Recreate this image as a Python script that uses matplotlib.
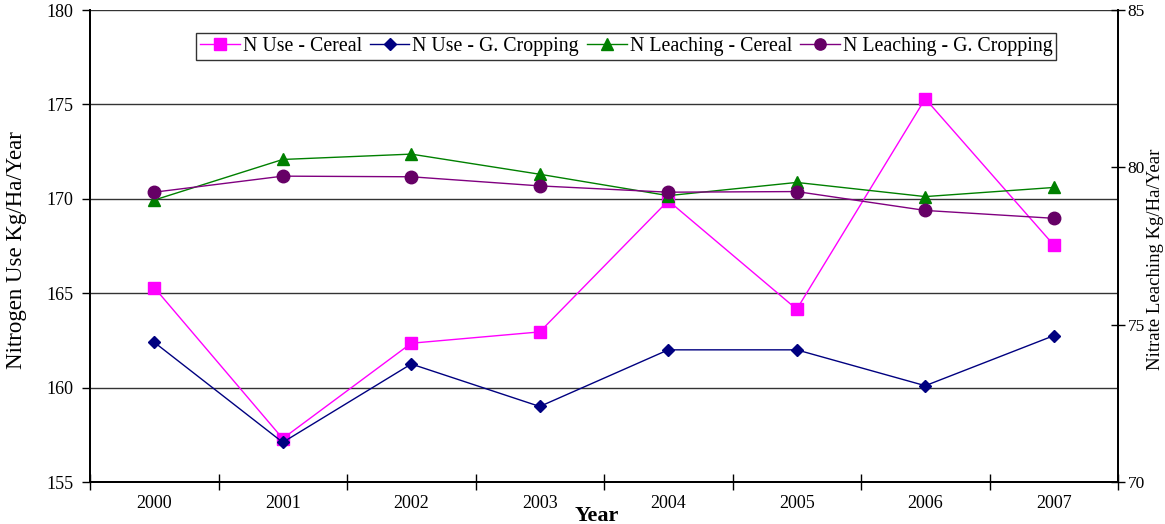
import matplotlib
matplotlib.use('Agg')
from matplotlib import pyplot as plt
from matplotlib.ticker import FixedLocator
import numpy as np

years = ['2000', '2001', '2002', '2003', '2004', '2005', '2006', '2007']

# Nitrogen use (left axis, Kg/Ha/Year)
n_use_cereal = [165.3, 157.3, 162.35, 162.95, 169.9, 164.15, 175.3, 167.55]
n_use_gcrop = [162.4, 157.1, 161.25, 159.0, 162.0, 162.0, 160.1, 162.75]

# Nitrate leaching (right axis, Kg/Ha/Year)
n_leach_cereal = [78.96, 80.25, 80.42, 79.78, 79.1, 79.52, 79.07, 79.36]
n_leach_gcrop = [79.21, 79.72, 79.7, 79.41, 79.21, 79.23, 78.63, 78.38]

plt.rcParams['font.family'] = ['Liberation Serif', 'DejaVu Serif']

fig = plt.figure(figsize=(11.65, 5.24), dpi=100)
ax = fig.add_axes([90/1165, 1-482/524, 1028/1165, 472/524])
ax2 = ax.twinx()

x = np.arange(len(years))

l1, = ax.plot(x, n_use_cereal, color='#FF00FF', lw=1.0, marker='s',
              markersize=9, label='N Use - Cereal', zorder=3)
l2, = ax.plot(x, n_use_gcrop, color='#000080', lw=1.0, marker='D',
              markersize=6.5, label='N Use - G. Cropping', zorder=3)
l3, = ax2.plot(x, n_leach_cereal, color='#008000', lw=1.0, marker='^',
               markersize=9, label='N Leaching - Cereal', zorder=3)
l4, = ax2.plot(x, n_leach_gcrop, color='#800080', mfc='#660066', mec='#660066',
               lw=1.0, marker='o', markersize=9, label='N Leaching - G. Cropping',
               zorder=4)

# left axis
ax.set_xlim(-0.5, 7.5)
ax.set_ylim(155, 180)
ax.set_yticks([155, 160, 165, 170, 175, 180])
ax.grid(axis='y', color='#333333', linewidth=1.0)
ax.set_axisbelow(True)
ax.tick_params(axis='y', direction='out', length=6, width=1, labelsize=13,
               pad=6)

# x axis: labels centred, ticks at category boundaries
ax.set_xticks(x)
ax.set_xticklabels(years, fontsize=13)
ax.tick_params(axis='x', which='major', length=0, pad=9)
ax.xaxis.set_minor_locator(FixedLocator(np.arange(-0.5, 8.0, 1.0)))
ax.tick_params(axis='x', which='minor', direction='inout', length=12, width=1)

# right axis
ax2.set_ylim(70, 85)
ax2.set_yticks([70, 75, 80, 85])
ax2.tick_params(axis='y', direction='inout', length=10, width=1, labelsize=12.5,
                pad=2)

# axis titles
fig.text(17/1165, 1-250/524, 'Nitrogen Use Kg/Ha/Year', fontsize=16.5,
         rotation=90, ha='center', va='center')
fig.text(1155/1165, 1-259/524, 'Nitrate Leaching Kg/Ha/Year', fontsize=13.5,
         rotation=90, ha='center', va='center')
fig.text(597/1165, 1-516/524, 'Year', fontsize=16, fontweight='bold',
         ha='center', va='center')

for a in (ax, ax2):
    a.spines['top'].set_visible(False)
    for s in ('left', 'right', 'bottom'):
        a.spines[s].set_linewidth(1.3)
        a.spines[s].set_color('black')

leg = ax2.legend(handles=[l1, l2, l3, l4], loc='upper left',
                 bbox_to_anchor=(0.103, 0.951), ncol=4, fontsize=14.3,
                 frameon=True, fancybox=False, edgecolor='black',
                 handlelength=2.0, handletextpad=0.15, columnspacing=0.4,
                 borderpad=0.2, borderaxespad=0, markerscale=0.9)
leg.get_frame().set_linewidth(1.0)

fig.savefig('out.png', dpi=100)
